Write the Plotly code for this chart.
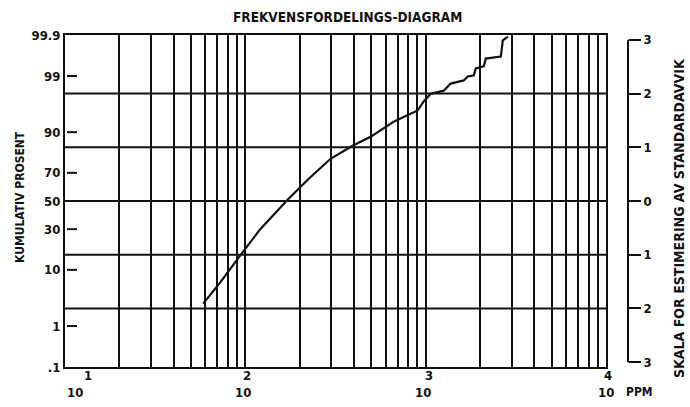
import plotly.graph_objects as go
from statistics import NormalDist

nd = NormalDist()

# Data
ppm = [58.4, 72.6, 93.8, 121, 171, 224, 297, 393, 495, 664, 903, 975, 1066,
       1259, 1377, 1626, 1712, 1848, 1896, 2100, 2154, 2610, 2678, 2856]
cum_pct = [2.8, 6.5, 15.6, 30.0, 50.7, 65.9, 78.4, 84.8, 88.4, 93.0, 95.4, 96.8, 97.7,
           98.0, 98.56, 98.76, 98.98, 99.03, 99.32, 99.39, 99.60, 99.64, 99.86, 99.89]

pct_ticks = [0.1, 1, 10, 30, 50, 70, 90, 99, 99.9]
pct_labels = [".1", "1", "10", "30", "50", "70", "90", "99", "99.9"]
z_grid = [-2, -1, 0, 1, 2]
z_ticks = [-3, -2, -1, 0, 1, 2, 3]
z_labels = ["3", "2", "1", "0", "1", "2", "3"]
decades = [1, 2, 3, 4]

FONT = "DejaVu Sans Condensed, DejaVu Sans, sans-serif"
INK = "#111111"

def z(p):
    return nd.inv_cdf(p / 100.0)

zlo = z(0.1) - 1e-6
zhi = z(99.9) + 1e-6

x_grid = [m * 10 ** k for k in range(1, 4) for m in range(1, 10)] + [10 ** 4]

fig = go.Figure()
fig.add_trace(go.Scatter(
    x=ppm, y=[z(p) for p in cum_pct], mode="lines",
    line=dict(color=INK, width=2.2), showlegend=False, hoverinfo="skip"))
# invisible trace so the right-hand scale axis is drawn
fig.add_trace(go.Scatter(
    x=[10, 10], y=[zlo, zhi], yaxis="y2", mode="lines",
    line=dict(color="rgba(0,0,0,0)", width=0), showlegend=False, hoverinfo="skip"))

W, H = 690, 407
ml, mr, mt, mb = 65, 40, 35, 40
pw = W - ml - mr
ph = H - mt - mb
x_dom_end = 541 / pw

def px_x(px):
    return (px - ml) / pw

def px_y(py):
    return (H - mb - py) / ph

shapes = []
for g in z_grid:
    shapes.append(dict(type="line", xref="x domain", x0=0, x1=1, yref="y", y0=g, y1=g,
                       line=dict(color=INK, width=2), layer="above"))
# right standard-deviation scale line
shapes.append(dict(type="line", xref="paper", x0=px_x(628), x1=px_x(628), yref="y",
                   y0=-3, y1=3, line=dict(color=INK, width=2)))
# inside tick marks on the left percentage axis
for p in pct_ticks[1:-1]:
    shapes.append(dict(type="line", xref="paper", x0=px_x(67), x1=px_x(77), yref="y",
                       y0=z(p), y1=z(p), line=dict(color=INK, width=2)))

def txt(text, x, y, size, xref="paper", angle=0, xshift=0):
    return dict(text=text, xref=xref, yref="paper", x=x, y=y, xshift=xshift,
                xanchor="center", yanchor="middle", textangle=angle, showarrow=False,
                font=dict(family=FONT, size=size, color=INK, weight="bold"))

ann = []
ann.append(txt("FREKVENSFORDELINGS-DIAGRAM", px_x(347), px_y(17), 13.5))
ann.append(txt("KUMULATIV PROSENT", px_x(20), px_y(197), 12, angle=-90))
ann.append(txt("SKALA FOR ESTIMERING AV STANDARDAVVIK", px_x(679), px_y(218), 14, angle=-90))
xshift_base = {1: 10, 2: -2, 3: -3, 4: 0}
xshift_exp = {1: 23, 2: 2, 3: 3, 4: 2}
for d in decades:
    ann.append(txt("10", d, px_y(392), 13, xref="x", xshift=xshift_base[d]))
    ann.append(txt(str(d), d, px_y(376), 13, xref="x", xshift=xshift_exp[d]))
ann.append(txt("PPM", px_x(639), px_y(392), 12))

fig.update_layout(
    width=W, height=H,
    margin=dict(l=ml, r=mr, t=mt, b=mb, autoexpand=False),
    paper_bgcolor="white", plot_bgcolor="white",
    shapes=shapes, annotations=ann,
    xaxis=dict(type="log", range=[1, 4], domain=[0, x_dom_end],
               tickvals=x_grid, showticklabels=False, ticks="",
               showgrid=True, gridcolor=INK, gridwidth=2,
               showline=True, linecolor=INK, linewidth=2, mirror=True, zeroline=False),
    yaxis=dict(range=[zlo, zhi], tickvals=[z(p) for p in pct_ticks], ticktext=pct_labels,
               ticks="", showgrid=False, zeroline=False,
               showline=True, linecolor=INK, linewidth=2, mirror=True,
               tickfont=dict(family=FONT, size=13, color=INK, weight="bold")),
    yaxis2=dict(range=[zlo, zhi], overlaying="y", anchor="free", position=px_x(628),
                side="right", tickvals=z_ticks, ticktext=z_labels,
                ticks="outside", ticklen=12, tickwidth=2, tickcolor=INK,
                showgrid=False, zeroline=False, showline=False,
                tickfont=dict(family=FONT, size=13, color=INK, weight="bold")),
)

fig.write_html("out.html", config={"displayModeBar": False},
               post_script="document.body.style.margin='0px';")
